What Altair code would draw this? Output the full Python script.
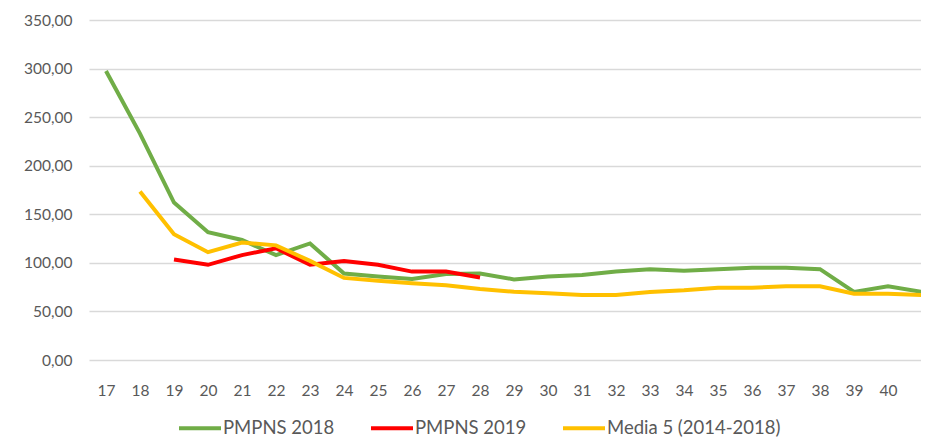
import altair as alt
import pandas as pd

weeks = list(range(17, 42))
pmpns_2018 = [297.5, 233, 162, 131.5, 123.5, 108, 120, 89, 86, 83.5, 88.5, 89, 83, 86, 87.5,
              91, 93.5, 92, 93.5, 95, 95, 93.5, 70, 76, 70]
pmpns_2019 = [None, None, 103.5, 98, 108, 115, 98, 102, 98, 91, 91, 85] + [None] * 13
media_5 = [None, 173.5, 129.5, 111, 121, 118, 102, 84.5, 81.5, 79, 77, 73, 70.3, 68.6, 67,
           67, 70, 71.7, 74.4, 74.4, 75.8, 75.8, 68.3, 68.3, 67]
series_names = ["PMPNS 2018", "PMPNS 2019", "Media 5 (2014-2018)"]
series_colors = ["#70AD47", "#FF0000", "#FFC000"]
y_ticks = [0, 50, 100, 150, 200, 250, 300, 350]

rows = []
for name, vals in zip(series_names, [pmpns_2018, pmpns_2019, media_5]):
    for w, v in zip(weeks, vals):
        if v is not None:
            rows.append({"week": w, "value": v, "series": name})
df = pd.DataFrame(rows)

font = "Lato"
W, H = 832, 340
x_min = 16.5
x_max = x_min + W / 34.0

chart = alt.Chart(df).mark_line(strokeWidth=4, clip=True).encode(
    x=alt.X("week:Q", scale=alt.Scale(domain=[x_min, x_max], nice=False, zero=False),
            axis=alt.Axis(title=None, values=weeks, format="d", labelAngle=0, domain=False,
                          ticks=False, grid=False, labelPadding=23, labelFontSize=15.5,
                          labelColor="#595959", labelFont=font, labelFlush=False,
                          labelOverlap=False, labelBound=False)),
    y=alt.Y("value:Q", scale=alt.Scale(domain=[0, 350], nice=False),
            axis=alt.Axis(title=None, values=y_ticks,
                          labelExpr="replace(format(datum.value, '.2f'), '.', ',')",
                          domain=False, ticks=False, gridColor="#D9D9D9", gridWidth=1.5,
                          labelPadding=17, labelFontSize=15.5, labelColor="#595959",
                          labelFont=font)),
    color=alt.Color("series:N", sort=series_names,
                    scale=alt.Scale(domain=series_names, range=series_colors),
                    legend=alt.Legend(title=None, orient="none", legendX=88, legendY=385,
                                      direction="horizontal", symbolType="stroke",
                                      symbolSize=1764, symbolStrokeWidth=4,
                                      labelFontSize=18.5, labelColor="#595959", labelFont=font,
                                      labelOffset=0, columnPadding=28, labelLimit=0)),
    order=alt.Order("week:Q"),
).properties(
    width=W, height=H,
    autosize=alt.AutoSizeParams(type="none"),
    padding={"left": 81, "top": 12, "right": 0, "bottom": 80},
).configure_view(stroke=None)

chart.save("out.html", embed_options={"renderer": "svg", "actions": False})
